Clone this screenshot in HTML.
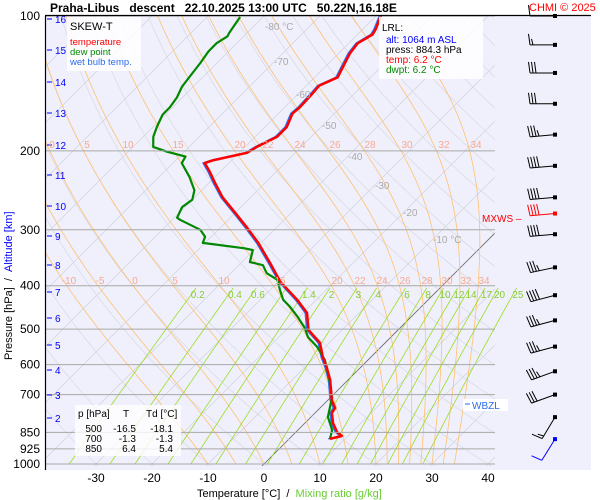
<!DOCTYPE html>
<html><head><meta charset="utf-8"><style>
body{margin:0;background:#fff;}
svg{display:block;font-family:"Liberation Sans",sans-serif;}
</style></head><body>
<svg id="c" width="600" height="500" xmlns="http://www.w3.org/2000/svg">
<defs><clipPath id="clp"><rect x="45" y="16" width="450" height="450"/></clipPath>
<clipPath id="clp2"><rect x="45" y="16" width="546" height="450"/></clipPath></defs>
<rect x="45" y="16" width="546" height="454" fill="#f0f0fc"/>
<g id="grid" clip-path="url(#clp)"></g>
<g id="mix" clip-path="url(#clp2)"></g>
<g id="series" clip-path="url(#clp2)"></g>
<g id="labels"></g>
<g id="wind"></g>
<line x1="45" y1="15.5" x2="591" y2="15.5" stroke="#000" stroke-width="1.2"/>
<line x1="45.5" y1="16" x2="45.5" y2="470" stroke="#000" stroke-width="1.2"/>
<text x="50" y="12" font-size="12" font-weight="bold">Praha-Libus&#160;&#160;&#160;descent&#160;&#160;&#160;22.10.2025 13:00 UTC&#160;&#160;&#160;50.22N,16.18E</text>
<text x="529" y="11" font-size="11" fill="#f00">CHMI © 2025</text>
<g>
<rect x="67" y="17" width="74" height="54" fill="#fff" opacity="0.85"/>
<text x="70" y="30" font-size="11">SKEW-T</text>
<text x="70" y="45" font-size="9.5" fill="#f00">temperature</text>
<text x="70" y="55" font-size="9.5" fill="#080">dew point</text>
<text x="70" y="65" font-size="9.5" fill="#2a6cf0">wet bulb temp.</text>
</g>
<g>
<rect x="379" y="17" width="104" height="62" fill="#fff" opacity="0.85"/>
<text x="382" y="31" font-size="10">LRL:</text>
<text x="386" y="43" font-size="10" fill="#00f">alt: 1064 m ASL</text>
<text x="386" y="53" font-size="10">press: 884.3 hPa</text>
<text x="386" y="63" font-size="10" fill="#f00">temp: 6.2 °C</text>
<text x="386" y="73" font-size="10" fill="#080">dwpt: 6.2 °C</text>
</g>
<g font-size="10">
<rect x="75" y="405" width="106" height="51" fill="#fff" opacity="0.8"/>
<text x="78" y="417">p [hPa]</text><text x="123" y="417">T</text><text x="146" y="417">Td [°C]</text>
<text x="102" y="432" text-anchor="end">500</text><text x="136" y="432" text-anchor="end">-16.5</text><text x="173" y="432" text-anchor="end">-18.1</text>
<text x="102" y="442" text-anchor="end">700</text><text x="136" y="442" text-anchor="end">-1.3</text><text x="173" y="442" text-anchor="end">-1.3</text>
<text x="102" y="452" text-anchor="end">850</text><text x="136" y="452" text-anchor="end">6.4</text><text x="173" y="452" text-anchor="end">5.4</text>
</g>
<g>
<rect x="463" y="399" width="45" height="12" fill="#fff"/>
<line x1="465" y1="404" x2="470" y2="404" stroke="#2a6cf0"/>
<text x="472" y="409" font-size="10" fill="#2a6cf0">WBZL</text>
</g>
<text x="482" y="222" font-size="10" fill="#f00">MXWS –</text>
<text transform="translate(12,360) rotate(-90)" font-size="11">Pressure [hPa]&#160;&#160;/&#160;&#160;<tspan fill="#00f">Altitude [km]</tspan></text>
<text x="197" y="497" font-size="11">Temperature [°C]&#160;&#160;/&#160;&#160;<tspan fill="#6c3">Mixing ratio [g/kg]</tspan></text>
</svg>
<script>
const tempP=[879,866,848,810,769,750,720,649,608,577,537,502,460,430,392,356,321,297,275,254,236,223,213,210,202,196,186,177,165,160,149,143,137,130,121,115,110,107,100];
const tempT=[7.3,8.9,7.3,5.0,3.0,2.7,0.7,-3.2,-6.1,-8.6,-11.6,-16.0,-19.3,-23.4,-29.6,-34.8,-40.5,-45.2,-50,-55,-58.9,-61.8,-64.3,-63.4,-58.6,-57.9,-56.1,-56.1,-57.5,-57.3,-57.5,-57.7,-55.9,-56.8,-58,-58.4,-57.3,-57.7,-59.1];
const dewP=[879,840,785,746,709,659,586,548,521,497,470,446,430,409,388,375,360,354,333,330,321,311,300,285,282,267,257,245,229,213,206,201,196,186,177,166,160,152,144,139,127,120,115,111,109,100.5];
const dewT=[7.3,6.1,3.0,1.6,0.2,-2.7,-7.7,-11.4,-14.8,-17.0,-20.2,-23.4,-25.9,-28.2,-30.5,-33.6,-35.7,-38.6,-40.2,-42,-50.4,-51.1,-53.2,-58.6,-59.5,-60.5,-60,-61.3,-64.5,-68.4,-68.9,-73,-76.4,-78.2,-79.3,-80.5,-80.5,-81,-82,-82.3,-83,-83.6,-83.6,-82.9,-83.2,-84.1];
const pressureTicks=[100,200,300,400,500,600,700,850,925,1000];
const tempTicks=[-30,-20,-10,0,10,20,30,40];
const altKm=[16,15,14,13,12,11,10,9,8,7,6,5,4,3,2];
const altY=[19,50,82,113,145,175,206,236,265,292,318,345,370,395,418];
const mixRatios=[0.2,0.4,0.6,1,1.4,2,3,4,6,8,10,12,14,17,20,25];
const mixLabels=["0.2","0.4","0.6","","1.4","2","3","4","6","8","10","12","14","17","20","25"];
const moistThetaW=[-10,-5,0,5,10,15,20,22,24,26,28,30,32,34];
const windP=[100,116,134,157,184,216,254,276,307,364,420,478,547,621,700,786,880];
const windDir=[270,270,270,270,265,265,265,265,265,258,255,255,255,250,250,211,212];
const windKt=[10,15,30,30,35,40,40,40,40,35,40,35,35,35,30,15,10];

const NS="http://www.w3.org/2000/svg";
function yP(p){return 16+448*Math.log10(p/100);}
function xT(T,p){return 264+5.6*T+(464-yP(p));}
function el(tag,attrs,parent){const e=document.createElementNS(NS,tag);for(const k in attrs)e.setAttribute(k,attrs[k]);parent.appendChild(e);return e;}
const grid=document.getElementById('grid'),mix=document.getElementById('mix'),ser=document.getElementById('series'),lab=document.getElementById('labels'),wind=document.getElementById('wind');
function pathFrom(pts){return pts.map((q,i)=>(i?'L':'M')+q[0].toFixed(1)+' '+q[1].toFixed(1)).join(' ');}
for(let T=-150;T<=50;T+=10){
 const l=el('line',{x1:xT(T,1050),y1:yP(1050),x2:xT(T,100),y2:yP(100),stroke:T===0?'#666':'#d2d2dc','stroke-width':T===0?0.8:0.7},grid);
 
 
}
for(let th=-60;th<=220;th+=10){
 const pts=[];for(let p=1050;p>=100;p-=10){pts.push([xT((th+273.15)*Math.pow(p/1000,0.286)-273.15,p),yP(p)]);}
 const d=el('path',{d:pathFrom(pts),fill:'none',stroke:'#d8d8e2','stroke-width':0.7},grid);
 
 
}
function es(T){return 6.112*Math.exp(17.67*T/(T+243.5));}
moistThetaW.forEach(tw=>{
 let T=tw+273.15;const pts=[];
 for(let p=1000;p>=100;p-=2){
  pts.push([xT(T-273.15,p),yP(p)]);
  const e=es(T-273.15),rs=0.622*e/(p-e);
  const dTdp=(287*T+2.5e6*rs)/(p*(1004+2.5e6*2.5e6*rs*0.622/(287*T*T)));
  T-=dTdp*2;
 }
 const d=el('path',{d:pathFrom(pts),fill:'none',stroke:'#ffc070','stroke-width':0.8},grid);
 
 
});
pressureTicks.forEach(p=>{
 const l=el('line',{x1:45,y1:yP(p),x2:495,y2:yP(p),stroke:'#a8a8a8','stroke-width':1},lab);
 
 
 const t=el('text',{x:40,y:yP(p)+4,'font-size':12,'text-anchor':'end'},lab);t.textContent=p;
 
 
});
tempTicks.forEach(T=>{
 const t=el('text',{x:xT(T,1000),y:482,'font-size':12,'text-anchor':'middle'},lab);t.textContent=T;
 
 
});
altKm.forEach((k,i)=>{
 const l=el('line',{x1:47,y1:altY[i],x2:52,y2:altY[i],stroke:'#00f','stroke-width':1},lab);
 
 
 const t=el('text',{x:55,y:altY[i]+4,'font-size':10,fill:'#00f'},lab);t.textContent=k;
 
 
});
[[-80,265,30,' °C'],[-70,274,65,''],[-60,296,98,''],[-50,322,129,''],[-40,348,160,''],[-30,375,189,''],[-20,403,216,''],[-10,433,243,' °C']].forEach(a=>{
 const t=el('text',{x:a[1],y:a[2],'font-size':10,fill:'#aaa'},lab);t.textContent=a[0]+a[3];
 
 
});
[['0',52],['5',87],['10',128],['15',178],['20',240],['22',268],['24',300],['26',335],['28',370],['30',407],['32',444],['34',476]].forEach(a=>{
 const t=el('text',{x:a[1],y:148,'font-size':10,fill:'#f8a890','text-anchor':'middle'},lab);t.textContent=a[0];
 
 
});
[['-10',69],['-5',100],['0',135],['5',175],['10',224],['15',280],['20',337],['22',360],['24',382],['26',405],['28',427],['30',447],['32',466],['34',484]].forEach(a=>{
 const t=el('text',{x:a[1],y:284,'font-size':10,fill:'#f8a890','text-anchor':'middle'},lab);t.textContent=a[0];
 
 
});
function tdW(w,p){const e=w*p/(622+w),L=Math.log(e/6.112);return 243.5*L/(17.67-L);}
mixRatios.forEach((w,i)=>{
 const pts=[];for(let p=1000;p>=405;p-=5)pts.push([xT(tdW(w,p),p),yP(p)]);
 const d=el('path',{d:pathFrom(pts),fill:'none',stroke:'#99dd22','stroke-width':0.8},mix);
 
 
 if(mixLabels[i]){const t=el('text',{x:xT(tdW(w,400),400),y:298,'font-size':10,fill:'#8c3','text-anchor':'middle'},lab);t.textContent=mixLabels[i];
 
 }
});
const wb=el('path',{d:pathFrom(tempP.map((p,i)=>[xT(tempT[i]-0.3,p),yP(p)])),fill:'none',stroke:'#3070f0','stroke-width':1.6},ser);


const dl=el('path',{d:pathFrom(dewP.map((p,i)=>[xT(dewT[i],p),yP(p)])),fill:'none',stroke:'#008800','stroke-width':2.2,'stroke-linejoin':'round'},ser);


const tl=el('path',{d:pathFrom(tempP.map((p,i)=>[xT(tempT[i],p),yP(p)])),fill:'none',stroke:'#ff0000','stroke-width':2.5,'stroke-linejoin':'round'},ser);


windP.forEach((p,i)=>{
 const y=yP(p),x=555,col=i===7?'#f00':(i===windP.length-1?'#00f':'#000');
 const r=windDir[i]*Math.PI/180,ux=Math.sin(r),uy=-Math.cos(r),L=25;
 const ex=x+ux*L,ey=y+uy*L;
 const g=el('g',{},wind);
 
 
 el('line',{x1:x,y1:y,x2:ex,y2:ey,stroke:col,'stroke-width':1},g);
 el('rect',{x:x-2,y:y-2,width:4,height:4,fill:col},g);
 let s=windKt[i],k=0;
 while(s>=5){const len=s>=10?11:6;const sx=ex-ux*k*3,sy=ey-uy*k*3;
  el('line',{x1:sx,y1:sy,x2:sx-uy*len+ux*1.5,y2:sy+ux*len+uy*1.5,stroke:col,'stroke-width':1},g);
  s-=s>=10?10:5;k++;}
});
</script>
</body></html>
